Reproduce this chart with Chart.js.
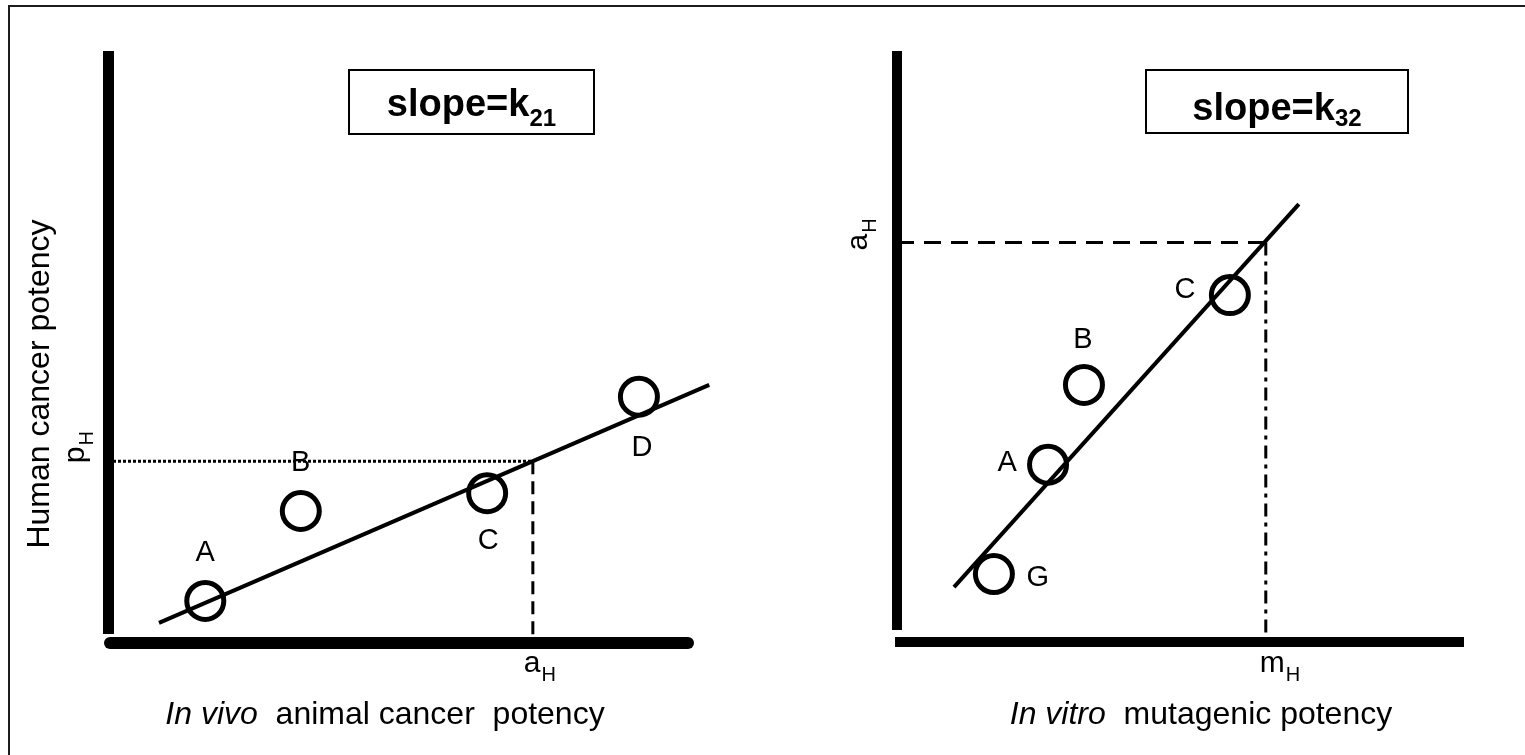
<!DOCTYPE html>
<html>
<head>
<meta charset="utf-8">
<title>Potency extrapolation</title>
<script src="https://cdn.jsdelivr.net/npm/chart.js@4.4.1/dist/chart.umd.min.js"></script>
<style>
  body { margin: 0; background: #fff; }
  #wrap { position: relative; width: 1525px; height: 755px; overflow: hidden; background: #fff; }
  #frame { position: absolute; left: 8px; top: 5px; width: 1600px; height: 800px;
           border-left: 2px solid #1c1c1c; border-top: 2px solid #1c1c1c; }
  canvas { position: absolute; top: 0; }
  #left { left: 0; }
  #right { left: 760px; }
</style>
</head>
<body>
<div id="wrap">
  <div id="frame"></div>
  <canvas id="left" width="760" height="755"></canvas>
  <canvas id="right" width="765" height="755"></canvas>
</div>

<script>
// Left panel: in vivo animal potency vs human potency
const leftLabels = ['A', 'B', 'C', 'D'];
const leftX = [1.66, 3.29, 6.47, 9.06];
const leftY = [0.71, 2.23, 2.53, 4.16];
const leftFitX = [0.87, 10.26];
const leftFitY = [0.34, 4.36];
const leftAH = 7.25;   // a_H
const leftPH = 3.07;   // p_H

// Right panel: in vitro mutagenic potency vs animal potency
const rightLabels = ['G', 'A', 'B', 'C'];
const rightX = [1.70, 2.65, 3.28, 5.84];
const rightY = [1.15, 3.00, 4.35, 5.87];
const rightFitX = [1.00, 7.05];
const rightFitY = [0.93, 7.41];
const rightMH = 6.47;  // m_H
const rightAH = 6.76;  // a_H

const FONT = '"Liberation Sans", Arial, Helvetica, sans-serif';

// draw "main" with a lowered subscript, optionally rotated -90deg
function drawSub(ctx, x, y, main, sub, rotated) {
    ctx.save();
    ctx.translate(x, y);
    if (rotated) ctx.rotate(-Math.PI / 2);
    ctx.textAlign = 'left';
    ctx.textBaseline = 'alphabetic';
    ctx.font = '30px ' + FONT;
    ctx.fillText(main, 0, 0);
    const w = ctx.measureText(main).width;
    ctx.font = '20px ' + FONT;
    ctx.fillText(sub, w + 1, 9);
    ctx.restore();
}

function decorPlugin(cfg) {
    return {
        id: 'decor',
        afterDatasetsDraw(chart) {
            const ctx = chart.ctx;
            const a = chart.chartArea;
            const xs = chart.scales.x;
            const ys = chart.scales.y;
            ctx.save();
            ctx.fillStyle = '#000';
            ctx.strokeStyle = '#000';

            // thick axis bars
            ctx.fillRect(a.left - 5, a.top, cfg.vBarW, a.bottom - cfg.vBarGap - a.top);
            ctx.lineWidth = cfg.hBarW;
            ctx.lineCap = cfg.hBarCap;
            ctx.beginPath();
            ctx.moveTo(a.left + cfg.hBarStart, a.bottom);
            ctx.lineTo(a.right + cfg.hBarEnd, a.bottom);
            ctx.stroke();
            ctx.lineCap = 'butt';

            // point labels
            ctx.font = '29px ' + FONT;
            ctx.textAlign = 'center';
            ctx.textBaseline = 'middle';
            cfg.labels.forEach((lab, i) => {
                const px = xs.getPixelForValue(cfg.x[i]) + cfg.labelOffsets[i][0];
                const py = ys.getPixelForValue(cfg.y[i]) + cfg.labelOffsets[i][1];
                ctx.fillText(lab, px, py);
            });

            // guide value labels
            const gx = xs.getPixelForValue(cfg.guideX);
            const gy = ys.getPixelForValue(cfg.guideY);
            drawSub(ctx, gx + cfg.xMarkDx, 672, cfg.xMark[0], cfg.xMark[1], false);
            drawSub(ctx, cfg.yMarkX, gy + cfg.yMarkDy, cfg.yMark[0], cfg.yMark[1], true);

            // slope box
            ctx.lineWidth = 2;
            ctx.strokeRect(cfg.box.x, cfg.box.y, cfg.box.w, cfg.box.h);
            ctx.textAlign = 'left';
            ctx.textBaseline = 'alphabetic';
            ctx.font = 'bold 38px ' + FONT;
            const mw = ctx.measureText(cfg.slope[0]).width;
            ctx.font = 'bold 24px ' + FONT;
            const sw = ctx.measureText(cfg.slope[1]).width;
            const sx = cfg.box.x + (cfg.box.w - mw - sw) / 2;
            ctx.font = 'bold 38px ' + FONT;
            ctx.fillText(cfg.slope[0], sx, cfg.slopeBase);
            ctx.font = 'bold 24px ' + FONT;
            ctx.fillText(cfg.slope[1], sx + mw, 126);

            // x title, italic part first
            ctx.font = 'italic 32px ' + FONT;
            const iw = ctx.measureText(cfg.xTitle[0]).width;
            ctx.font = '32px ' + FONT;
            const rw = ctx.measureText(cfg.xTitle[1]).width;
            const tx = cfg.xTitleCx - (iw + rw) / 2;
            ctx.textBaseline = 'middle';
            ctx.font = 'italic 32px ' + FONT;
            ctx.fillText(cfg.xTitle[0], tx, 715);
            ctx.font = '32px ' + FONT;
            ctx.fillText(cfg.xTitle[1], tx + iw, 715);

            // y title
            if (cfg.yTitle) {
                ctx.save();
                ctx.translate(40, 384);
                ctx.rotate(-Math.PI / 2);
                ctx.textAlign = 'center';
                ctx.fillText(cfg.yTitle, 0, 0);
                ctx.restore();
            }
            ctx.restore();
        }
    };
}

function makePanel(id, cfg) {
    const points = cfg.x.map((v, i) => ({ x: v, y: cfg.y[i] }));
    const fit = cfg.fitX.map((v, i) => ({ x: v, y: cfg.fitY[i] }));
    const hGuide = [{ x: 0, y: cfg.guideY }, { x: cfg.guideX, y: cfg.guideY }];
    const vGuide = [{ x: cfg.guideX, y: cfg.guideY }, { x: cfg.guideX, y: 0 }];

    new Chart(document.getElementById(id), {
        type: 'scatter',
        data: {
            datasets: [{
                data: hGuide,
                showLine: true,
                borderColor: '#000',
                borderWidth: 3,
                borderDash: cfg.hDash,
                pointRadius: 0
            }, {
                data: vGuide,
                showLine: true,
                borderColor: '#000',
                borderWidth: 3,
                borderDash: cfg.vDash,
                pointRadius: 0
            }, {
                data: fit,
                showLine: true,
                borderColor: '#000',
                borderWidth: 4,
                pointRadius: 0,
                clip: false
            }, {
                data: points,
                borderColor: '#000',
                backgroundColor: 'rgba(0,0,0,0)',
                pointRadius: 18.5,
                pointBorderWidth: 5,
                clip: false
            }]
        },
        options: {
            responsive: false,
            animation: false,
            events: [],
            layout: { padding: cfg.padding },
            plugins: {
                legend: { display: false },
                tooltip: { enabled: false }
            },
            scales: {
                x: { type: 'linear', min: 0, max: 10, display: false },
                y: { type: 'linear', min: 0, max: 10, display: false }
            }
        },
        plugins: [decorPlugin(cfg)]
    });
}

makePanel('left', {
    labels: leftLabels, x: leftX, y: leftY,
    fitX: leftFitX, fitY: leftFitY,
    guideX: leftAH, guideY: leftPH,
    labelOffsets: [[0, -48], [0, -48], [1, 48], [3, 51]],
    hDash: [3, 2], vDash: [13, 7],
    padding: { left: 108, right: 66, top: 51, bottom: 112 },
    vBarW: 11, vBarGap: 9, hBarW: 12, hBarCap: 'round', hBarStart: 2, hBarEnd: -6,
    xMark: ['a', 'H'], xMarkDx: -9,
    yMark: ['p', 'H'], yMarkX: 84, yMarkDy: 2,
    box: { x: 349, y: 70, w: 245, h: 64 },
    slope: ['slope=k', '21'], slopeBase: 116,
    xTitle: ['In vivo', '  animal cancer  potency'], xTitleCx: 385,
    yTitle: 'Human cancer potency'
});

makePanel('right', {
    labels: rightLabels, x: rightX, y: rightY,
    fitX: rightFitX, fitY: rightFitY,
    guideX: rightMH, guideY: rightAH,
    labelOffsets: [[44, 4], [-41, -2], [-1, -45], [-45, -5]],
    hDash: [17, 10], vDash: [13, 6, 4, 6],
    padding: { left: 137, right: 58, top: 51, bottom: 113 },
    vBarW: 10, vBarGap: 12, hBarW: 10, hBarCap: 'butt', hBarStart: -2, hBarEnd: -3,
    xMark: ['m', 'H'], xMarkDx: -6,
    yMark: ['a', 'H'], yMarkX: 107, yMarkDy: 8,
    box: { x: 386, y: 70, w: 262, h: 63 },
    slope: ['slope=k', '32'], slopeBase: 120,
    xTitle: ['In vitro', '  mutagenic potency'], xTitleCx: 441,
    yTitle: null
});
</script>
</body>
</html>
